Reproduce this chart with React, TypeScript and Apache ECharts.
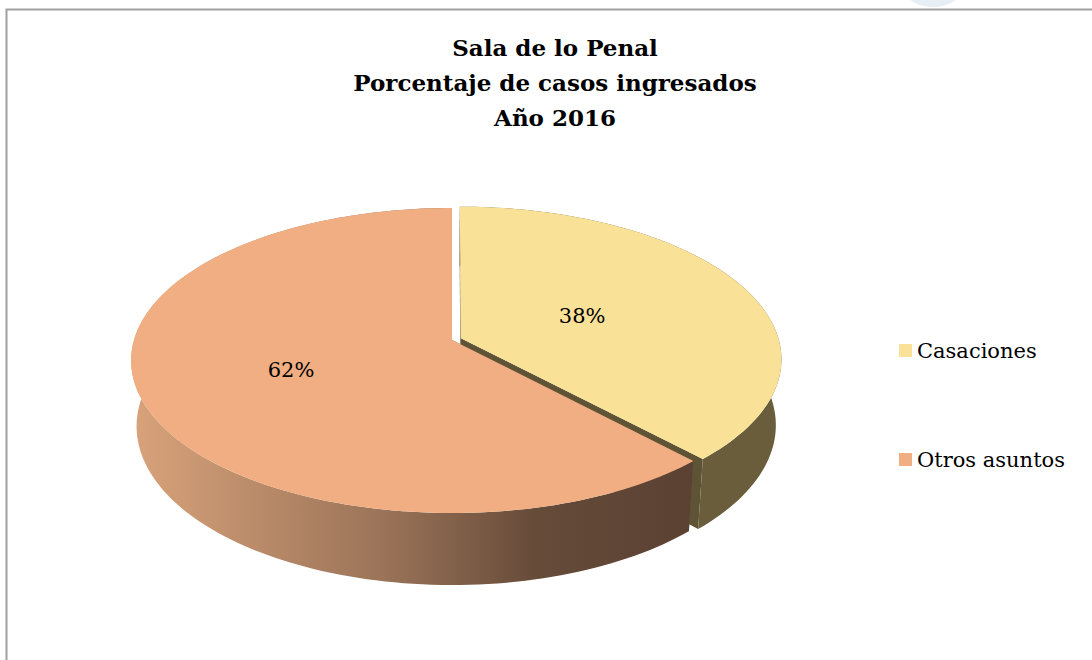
import React, { useEffect, useRef } from "react";
import * as echarts from "echarts";

// ---------- data ----------
const TITLE_LINES = ["Sala de lo Penal", "Porcentaje de casos ingresados", "Año 2016"];
const CATEGORIES = ["Casaciones", "Otros asuntos"];
const VALUES = [38, 62];

// ---------- style ----------
const TOP_COLORS = ["#F9E297", "#F0AE82"];
const FACE_COLORS = ["#5E5335", "#7A5A45"];
const EXPLODE = [0.03, 0];
const LABEL_R = [0.42, 0.53];
const SERIF = "'DejaVu Serif', 'Liberation Serif', serif";

// 3D projection parameters
const CX = 452;
const CY = 340;
const D = 6.56;
const ALPHA = (28.1 * Math.PI) / 180;
const SA = Math.sin(ALPHA);
const CA = Math.cos(ALPHA);
const K = 318 * D;
const THICK = 0.237;

function proj(x: number, z: number, y: number): number[] {
  const v = z * SA - y * CA;
  const w = D - z * CA - y * SA;
  return [CX + (K * x) / w, CY + (K * v) / w];
}

function sideFill(i: number): any {
  if (i === 0) return "#695D3C";
  return new echarts.graphic.LinearGradient(0, 0, 1, 0, [
    { offset: 0, color: "#D9A37B" },
    { offset: 0.45, color: "#9A7358" },
    { offset: 0.72, color: "#664B39" },
    { offset: 1, color: "#5A4132" },
  ]);
}

export default function App() {
  const ref = useRef<HTMLDivElement>(null);

  useEffect(() => {
    if (!ref.current) return;
    const chart = echarts.init(ref.current, undefined, { renderer: "svg" });
    const total = VALUES.reduce((a, b) => a + b, 0);

    const renderItem = (params: any, api: any) => {
      const i = params.dataIndex;
      let a0 = -Math.PI / 2;
      for (let j = 0; j < i; j++) a0 += (VALUES[j] / total) * Math.PI * 2;
      const val = api.value(0);
      const a1 = a0 + (val / total) * Math.PI * 2;
      const mid = (a0 + a1) / 2;
      const ex = EXPLODE[i] * Math.cos(mid);
      const ez = EXPLODE[i] * Math.sin(mid);

      const steps = Math.max(8, Math.ceil((a1 - a0) / (Math.PI / 120)));
      const topArc: number[][] = [];
      const botArc: number[][] = [];
      for (let s = 0; s <= steps; s++) {
        const a = a0 + ((a1 - a0) * s) / steps;
        const x = Math.cos(a) + ex;
        const z = Math.sin(a) + ez;
        topArc.push(proj(x, z, 0));
        botArc.push(proj(x, z, -THICK));
      }
      const apexTop = proj(ex, ez, 0);
      const apexBot = proj(ex, ez, -THICK);
      const face = (a: number) => {
        const x = Math.cos(a) + ex;
        const z = Math.sin(a) + ez;
        return [apexTop, proj(x, z, 0), proj(x, z, -THICK), apexBot];
      };
      const lp = proj(LABEL_R[i] * Math.cos(mid) + ex, LABEL_R[i] * Math.sin(mid) + ez, 0);
      const pct = Math.round((val / total) * 100) + "%";

      return {
        type: "group",
        children: [
          { type: "polygon", z2: 1, shape: { points: face(a0) }, style: { fill: FACE_COLORS[i] } },
          { type: "polygon", z2: 1, shape: { points: face(a1) }, style: { fill: FACE_COLORS[i] } },
          {
            type: "polygon",
            z2: 2,
            shape: { points: topArc.concat(botArc.slice().reverse()) },
            style: { fill: sideFill(i) },
          },
          {
            type: "polygon",
            z2: 3,
            shape: { points: [apexTop].concat(topArc) },
            style: { fill: TOP_COLORS[i] },
          },
          {
            type: "text",
            z2: 4,
            x: lp[0],
            y: lp[1],
            style: {
              text: pct,
              fill: "#000000",
              font: `21px ${SERIF}`,
              align: "center",
              verticalAlign: "middle",
              textAlign: "center",
              textVerticalAlign: "middle",
            },
          },
        ],
      };
    };

    const option: any = {
      animation: false,
      backgroundColor: "#ffffff",
      legend: {
        orient: "vertical",
        left: 899,
        top: 340,
        padding: 0,
        itemGap: 88,
        itemWidth: 13,
        itemHeight: 13,
        icon: "rect",
        selectedMode: false,
        data: CATEGORIES,
        textStyle: { fontFamily: SERIF, fontSize: 21, color: "#000000" },
      },
      graphic: [
        {
          type: "rect",
          z: -10,
          shape: { x: 6.5, y: 9.5, width: 1200, height: 800 },
          style: { fill: "none", stroke: "#A0A0A0", lineWidth: 2 },
        },
        {
          type: "ellipse",
          z: -10,
          shape: { cx: 933, cy: -24, rx: 36, ry: 31 },
          style: { fill: "#E7EEF6" },
        },
        ...TITLE_LINES.map((t, k) => ({
          type: "text",
          x: 555,
          y: 47 + k * 35,
          style: {
            text: t,
            fill: "#000000",
            font: `bold 23px ${SERIF}`,
            align: "center",
            verticalAlign: "middle",
            textAlign: "center",
            textVerticalAlign: "middle",
          },
        })),
      ],
      series: [
        {
          type: "pie",
          radius: [0, 0],
          center: [-50, -50],
          silent: true,
          label: { show: false },
          labelLine: { show: false },
          data: CATEGORIES.map((n, i) => ({
            name: n,
            value: VALUES[i],
            itemStyle: { color: TOP_COLORS[i] },
          })),
        },
        {
          type: "custom",
          coordinateSystem: "none",
          silent: true,
          renderItem,
          data: CATEGORIES.map((n, i) => ({ name: n, value: [VALUES[i]] })),
        },
      ],
    };
    chart.setOption(option);
    return () => chart.dispose();
  }, []);

  return (
    <div
      ref={ref}
      style={{ position: "fixed", left: 0, top: 0, width: 1092, height: 660 }}
    />
  );
}
